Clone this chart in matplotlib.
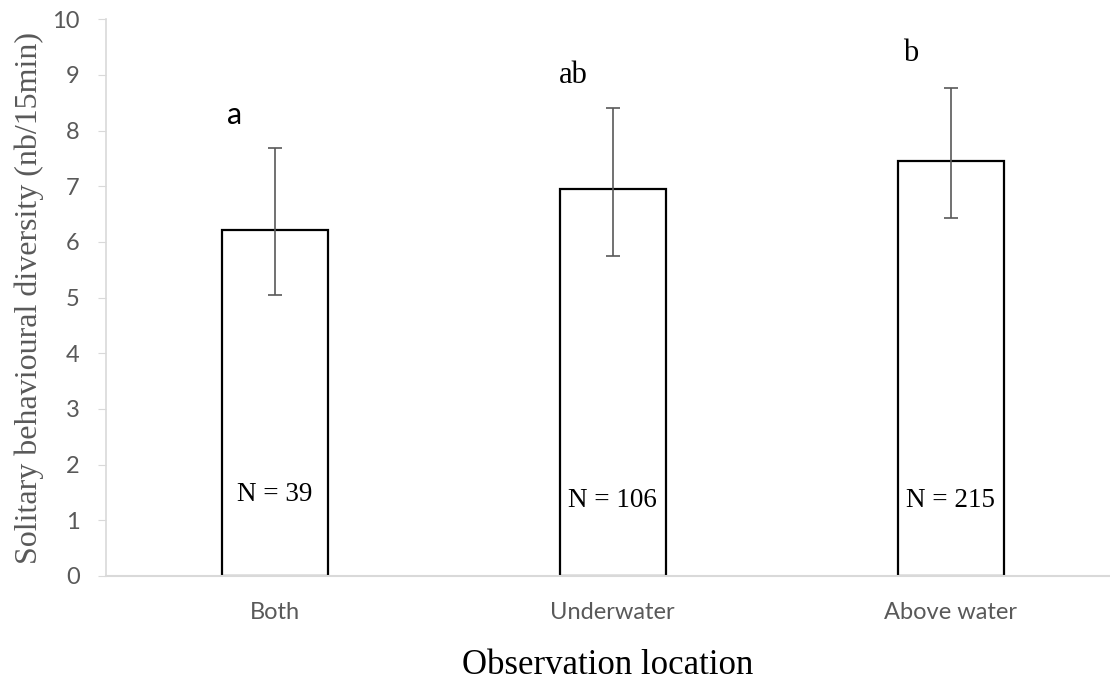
import matplotlib.pyplot as plt
import numpy as np

locations = ['Both', 'Underwater', 'Above water']
means = [6.22, 6.95, 7.46]
err_low = [5.04, 5.75, 6.42]
err_high = [7.69, 8.41, 8.76]
n_labels = ['N = 39', 'N = 106', 'N = 215']
n_y = [1.47, 1.35, 1.35]
letters = ['a', 'ab', 'b']
letter_y = [8.28, 8.98, 9.38]

grey = '#595959'
x = np.arange(len(locations))
yerr = [np.array(means) - np.array(err_low), np.array(err_high) - np.array(means)]

fig = plt.figure(figsize=(11.1, 6.84), dpi=100)
ax = fig.add_axes([0.0955, 0.158, 0.9045, 0.814])

ax.bar(x, means, width=0.314, color='white', edgecolor='black', linewidth=1.6, zorder=2)
ax.errorbar(x, means, yerr=yerr, fmt='none', ecolor=grey, elinewidth=1.2,
            capsize=4.7, capthick=1.2, zorder=3)

for i, lab in enumerate(n_labels):
    ax.text(x[i], n_y[i], lab, ha='center', va='center', fontsize=19.5,
            family='Liberation Serif', color='black')

# significance letters, 'a' is in the sans font in the original
for i, let in enumerate(letters):
    fam = 'Lato' if let == 'a' else 'Liberation Serif'
    ax.text(x[i] - 0.118, letter_y[i], let, ha='center', va='center',
            fontsize=22, family=fam, color='black')

ax.set_xlim(-0.5, 2.472)
ax.set_ylim(0, 10)
ax.set_yticks(range(0, 11))
ax.set_xticks(x)
ax.set_xticklabels(locations)

for s in ['top', 'right']:
    ax.spines[s].set_visible(False)
ax.spines['left'].set_color('#d9d9d9')
ax.spines['bottom'].set_color('#d9d9d9')
ax.spines['left'].set_linewidth(1.2)
ax.spines['bottom'].set_linewidth(1.5)

ax.tick_params(axis='y', length=6, color='#d9d9d9', labelsize=17, labelcolor=grey, pad=13)
ax.tick_params(axis='x', length=0, labelsize=17, labelcolor=grey, pad=19)
for t in ax.get_xticklabels() + ax.get_yticklabels():
    t.set_family('Lato')

ax.set_ylabel('Solitary behavioural diversity (nb/15min)', family='Liberation Serif',
              fontsize=23, color=grey, labelpad=6)
fig.text(0.5 * (0.0955 + 1.0), 10 / 684, 'Observation location', ha='center', va='baseline',
         family='Liberation Serif', fontsize=25, color='black')

fig.savefig('out.png', dpi=100)
